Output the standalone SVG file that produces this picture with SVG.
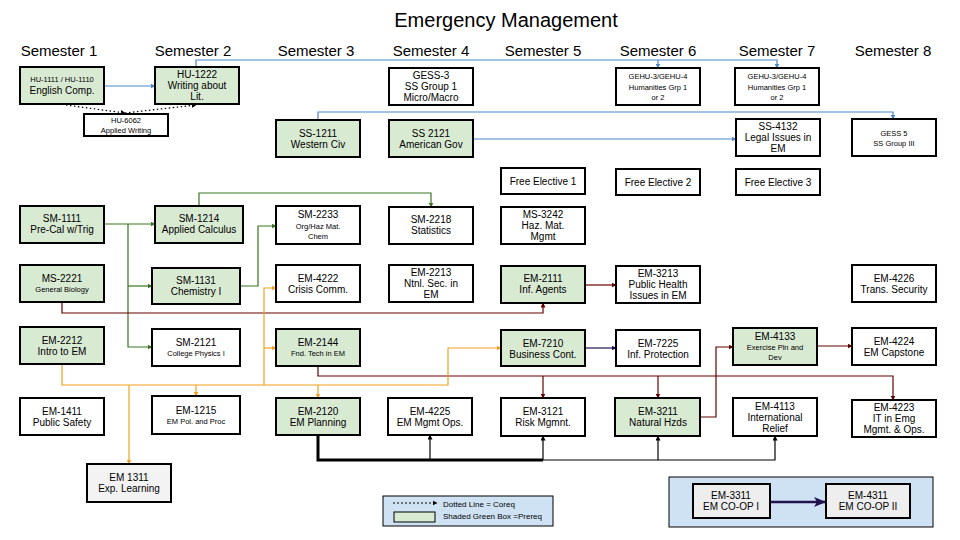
<svg xmlns="http://www.w3.org/2000/svg" width="960" height="540" viewBox="0 0 960 540">
<style>
text{font-family:"Liberation Sans",Arial,sans-serif;fill:#000;text-anchor:middle}
.n rect{stroke:#000;stroke-width:2}
.g{fill:#d9ead3}.w{fill:#fff}.e{fill:#eeeeee}
.t{font-size:10px}.s{font-size:7.5px}.h{font-size:15px}
.c path{fill:none}
.bl{stroke:#4a86c8;stroke-width:1.2}.gr{stroke:#38761d;stroke-width:1.2}.rd{stroke:#660000;stroke-width:1.2}
.or{stroke:#f1a21e;stroke-width:1.2}.nv{stroke:#20124d;stroke-width:1.2}.bk{stroke:#000;stroke-width:1.2}
</style>
<defs>
<marker id="ab" markerUnits="userSpaceOnUse" markerWidth="5" markerHeight="5" refX="4.5" refY="2.5" orient="auto"><path d="M0,0L5,2.5L0,5z" fill="#4a86c8"/></marker>
<marker id="ag" markerUnits="userSpaceOnUse" markerWidth="5" markerHeight="5" refX="4.5" refY="2.5" orient="auto"><path d="M0,0L5,2.5L0,5z" fill="#38761d"/></marker>
<marker id="ar" markerUnits="userSpaceOnUse" markerWidth="5" markerHeight="5" refX="4.5" refY="2.5" orient="auto"><path d="M0,0L5,2.5L0,5z" fill="#660000"/></marker>
<marker id="ao" markerUnits="userSpaceOnUse" markerWidth="5" markerHeight="5" refX="4.5" refY="2.5" orient="auto"><path d="M0,0L5,2.5L0,5z" fill="#f1a21e"/></marker>
<marker id="an" markerUnits="userSpaceOnUse" markerWidth="5" markerHeight="5" refX="4.5" refY="2.5" orient="auto"><path d="M0,0L5,2.5L0,5z" fill="#20124d"/></marker>
<marker id="ak" markerUnits="userSpaceOnUse" markerWidth="5" markerHeight="5" refX="4.5" refY="2.5" orient="auto"><path d="M0,0L5,2.5L0,5z" fill="#000"/></marker>
<marker id="anb" markerUnits="userSpaceOnUse" markerWidth="12" markerHeight="10" refX="11" refY="5" orient="auto"><path d="M0,0L12,5L0,10L3,5z" fill="#20124d"/></marker>
</defs>
<text x="506" y="27" style="font-size:20px">Emergency Management</text>
<g class="h">
<text x="59" y="56" class="h">Semester 1</text><text x="193" y="56" class="h">Semester 2</text><text x="316" y="56" class="h">Semester 3</text><text x="431" y="56" class="h">Semester 4</text><text x="543" y="56" class="h">Semester 5</text><text x="658" y="56" class="h">Semester 6</text><text x="777" y="56" class="h">Semester 7</text><text x="893" y="56" class="h">Semester 8</text>
</g>
<g id="legend"><rect x="383" y="496" width="170" height="30" fill="#cfe2f3" stroke="#000"/><path d="M393,503H437" stroke="#000" stroke-dasharray="2,2" marker-end="url(#ak)"/><text x="443" y="507" style="font-size:8px;text-anchor:start">Dotted Line = Coreq</text><rect x="394" y="512" width="41" height="10" fill="#d9ead3" stroke="#000"/><text x="443" y="519" style="font-size:8px;text-anchor:start">Shaded Green Box =Prereq</text></g>
<g id="coop"><rect x="669" y="477" width="264" height="50" fill="#cfe2f3" stroke="#000"/></g>
<g class="c">
<path class="bl" d="M104,86H155" marker-end="url(#ab)"/>
<path class="bl" d="M196,67V60H777V68" marker-end="url(#ab)"/>
<path class="bl" d="M658,60V68" marker-end="url(#ab)"/>
<path class="bl" d="M318,120V112H893V119" marker-end="url(#ab)"/>
<path class="bl" d="M473,139H736" marker-end="url(#ab)"/>
<path d="M66,105L125,113" stroke="#000" stroke-dasharray="1.5,2.5" stroke-width="1.2" marker-end="url(#ak)"/>
<path d="M125,113L196,105" stroke="#000" stroke-dasharray="1.5,2.5" stroke-width="1.2" marker-end="url(#ak)"/>
<path class="gr" d="M104,224H155" marker-end="url(#ag)"/>
<path class="gr" d="M128,224V347H152" marker-end="url(#ag)"/>
<path class="gr" d="M128,286H152" marker-end="url(#ag)"/>
<path class="gr" d="M199,206V193H431V207" marker-end="url(#ag)"/>
<path class="gr" d="M240,286H258V226H276" marker-end="url(#ag)"/>
<path class="rd" d="M62,302V313H543V303" marker-end="url(#ar)"/>
<path class="rd" d="M585,285H616" marker-end="url(#ar)"/>
<path class="rd" d="M318,366V376H893V400" marker-end="url(#ar)"/>
<path class="rd" d="M543,376V398" marker-end="url(#ar)"/>
<path class="rd" d="M658,376V398" marker-end="url(#ar)"/>
<path class="rd" d="M700,417H716V347H733" marker-end="url(#ar)"/>
<path class="rd" d="M817,346H852" marker-end="url(#ar)"/>
<path class="nv" d="M585,348H616" marker-end="url(#an)"/>
<path class="or" d="M62,364V385H448V348H501" marker-end="url(#ao)"/>
<path class="or" d="M196,385V396" marker-end="url(#ao)"/>
<path class="or" d="M318,385V398" marker-end="url(#ao)"/>
<path class="or" d="M129,385V464" marker-end="url(#ao)"/>
<path class="or" d="M264,385V288H276" marker-end="url(#ao)"/>
<path class="or" d="M264,348H276" marker-end="url(#ao)"/>
<path d="M318,435V460H543" stroke="#000" stroke-width="3"/>
<path class="bk" d="M543,460H775V436" marker-end="url(#ak)"/>
<path class="bk" d="M430,460V435" marker-end="url(#ak)"/>
<path class="bk" d="M543,460V436" marker-end="url(#ak)"/>
<path class="bk" d="M658,460V436" marker-end="url(#ak)"/>
<path d="M770,502H825" stroke="#20124d" stroke-width="2.5" marker-end="url(#anb)"/>
</g>
<g id="hu1111" class="n"><rect class="g" x="20" y="67" width="84" height="37"/><text class="s" x="62" y="82">HU-1111 / HU-1110</text><text class="t" x="62" y="94">English Comp.</text></g>
<g id="hu1222" class="n"><rect class="g" x="155" y="67" width="84" height="37"/><text class="t" x="197" y="78">HU-1222</text><text class="t" x="197" y="89">Writing about</text><text class="t" x="197" y="100">Lit.</text></g>
<g id="hu6062" class="n"><rect class="w" x="84" y="114" width="84" height="22"/><text class="s" x="126" y="123">HU-6062</text><text class="s" x="126" y="133">Applied Writing</text></g>
<g id="gess3" class="n"><rect class="w" x="389" y="68" width="84" height="37"/><text class="t" x="431" y="79">GESS-3</text><text class="t" x="431" y="90">SS Group 1</text><text class="t" x="431" y="101">Micro/Macro</text></g>
<g id="gehu6" class="n"><rect class="w" x="616" y="68" width="84" height="37"/><text class="s" x="658" y="79">GEHU-3/GEHU-4</text><text class="s" x="658" y="90">Humanities Grp 1</text><text class="s" x="658" y="100">or 2</text></g>
<g id="gehu7" class="n"><rect class="w" x="735" y="68" width="84" height="37"/><text class="s" x="777" y="79">GEHU-3/GEHU-4</text><text class="s" x="777" y="90">Humanities Grp 1</text><text class="s" x="777" y="100">or 2</text></g>
<g id="ss1211" class="n"><rect class="g" x="276" y="120" width="84" height="37"/><text class="t" x="318" y="137">SS-1211</text><text class="t" x="318" y="148">Western Civ</text></g>
<g id="ss2121" class="n"><rect class="g" x="389" y="120" width="84" height="37"/><text class="t" x="431" y="137">SS 2121</text><text class="t" x="431" y="148">American Gov</text></g>
<g id="ss4132" class="n"><rect class="w" x="736" y="119" width="84" height="37"/><text class="t" x="778" y="130">SS-4132</text><text class="t" x="778" y="141">Legal Issues in</text><text class="t" x="778" y="152">EM</text></g>
<g id="gess5" class="n"><rect class="w" x="852" y="119" width="84" height="37"/><text class="s" x="894" y="136">GESS 5</text><text class="s" x="894" y="146">SS Group III</text></g>
<g id="fe1" class="n"><rect class="w" x="501" y="168" width="84" height="26"/><text class="t" x="543" y="185">Free Elective 1</text></g>
<g id="fe2" class="n"><rect class="w" x="616" y="169" width="84" height="26"/><text class="t" x="658" y="186">Free Elective 2</text></g>
<g id="fe3" class="n"><rect class="w" x="736" y="169" width="84" height="26"/><text class="t" x="778" y="186">Free Elective 3</text></g>
<g id="sm1111" class="n"><rect class="g" x="20" y="206" width="84" height="37"/><text class="t" x="62" y="222">SM-1111</text><text class="t" x="62" y="233">Pre-Cal w/Trig</text></g>
<g id="sm1214" class="n"><rect class="g" x="155" y="206" width="88" height="37"/><text class="t" x="199" y="222">SM-1214</text><text class="t" x="199" y="233">Applied Calculus</text></g>
<g id="sm2233" class="n"><rect class="w" x="276" y="206" width="84" height="38"/><text class="t" x="318" y="218">SM-2233</text><text class="s" x="318" y="229">Org/Haz Mat.</text><text class="s" x="318" y="239">Chem</text></g>
<g id="sm2218" class="n"><rect class="w" x="389" y="207" width="84" height="37"/><text class="t" x="431" y="223">SM-2218</text><text class="t" x="431" y="234">Statistics</text></g>
<g id="ms3242" class="n"><rect class="w" x="501" y="207" width="84" height="37"/><text class="t" x="543" y="218">MS-3242</text><text class="t" x="543" y="229">Haz. Mat.</text><text class="t" x="543" y="240">Mgmt</text></g>
<g id="ms2221" class="n"><rect class="g" x="20" y="265" width="84" height="37"/><text class="t" x="62" y="282">MS-2221</text><text class="s" x="62" y="292">General Biology</text></g>
<g id="sm1131" class="n"><rect class="g" x="152" y="268" width="88" height="36"/><text class="t" x="196" y="284">SM-1131</text><text class="t" x="196" y="295">Chemistry I</text></g>
<g id="em4222" class="n"><rect class="w" x="276" y="265" width="84" height="37"/><text class="t" x="318" y="282">EM-4222</text><text class="t" x="318" y="293">Crisis Comm.</text></g>
<g id="em2213" class="n"><rect class="w" x="389" y="265" width="84" height="37"/><text class="t" x="431" y="276">EM-2213</text><text class="t" x="431" y="287">Ntnl. Sec. in</text><text class="t" x="431" y="298">EM</text></g>
<g id="em2111" class="n"><rect class="g" x="501" y="266" width="84" height="37"/><text class="t" x="543" y="282">EM-2111</text><text class="t" x="543" y="293">Inf. Agents</text></g>
<g id="em3213" class="n"><rect class="w" x="616" y="266" width="84" height="37"/><text class="t" x="658" y="277">EM-3213</text><text class="t" x="658" y="288">Public Health</text><text class="t" x="658" y="299">Issues in EM</text></g>
<g id="em4226" class="n"><rect class="w" x="852" y="265" width="84" height="37"/><text class="t" x="894" y="282">EM-4226</text><text class="t" x="894" y="293">Trans. Security</text></g>
<g id="em2212" class="n"><rect class="g" x="20" y="327" width="84" height="37"/><text class="t" x="62" y="344">EM-2212</text><text class="t" x="62" y="355">Intro to EM</text></g>
<g id="sm2121" class="n"><rect class="w" x="152" y="329" width="88" height="37"/><text class="t" x="196" y="346">SM-2121</text><text class="s" x="196" y="356">College Physics I</text></g>
<g id="em2144" class="n"><rect class="g" x="276" y="329" width="84" height="37"/><text class="t" x="318" y="346">EM-2144</text><text class="s" x="318" y="356">Fnd. Tech in EM</text></g>
<g id="em7210" class="n"><rect class="g" x="501" y="330" width="84" height="36"/><text class="t" x="543" y="347">EM-7210</text><text class="t" x="543" y="358">Business Cont.</text></g>
<g id="em7225" class="n"><rect class="w" x="616" y="330" width="84" height="36"/><text class="t" x="658" y="347">EM-7225</text><text class="t" x="658" y="358">Inf. Protection</text></g>
<g id="em4133" class="n"><rect class="g" x="733" y="328" width="84" height="37"/><text class="t" x="775" y="340">EM-4133</text><text class="s" x="775" y="350">Exercise Pln and</text><text class="s" x="775" y="360">Dev</text></g>
<g id="em4224" class="n"><rect class="w" x="852" y="328" width="84" height="37"/><text class="t" x="894" y="345">EM-4224</text><text class="t" x="894" y="356">EM Capstone</text></g>
<g id="em1411" class="n"><rect class="w" x="20" y="398" width="84" height="37"/><text class="t" x="62" y="415">EM-1411</text><text class="t" x="62" y="426">Public Safety</text></g>
<g id="em1215" class="n"><rect class="w" x="152" y="396" width="88" height="38"/><text class="t" x="196" y="414">EM-1215</text><text class="s" x="196" y="424">EM Pol. and Proc</text></g>
<g id="em2120" class="n"><rect class="g" x="276" y="398" width="84" height="37"/><text class="t" x="318" y="415">EM-2120</text><text class="t" x="318" y="426">EM Planning</text></g>
<g id="em4225" class="n"><rect class="w" x="388" y="398" width="84" height="37"/><text class="t" x="430" y="415">EM-4225</text><text class="t" x="430" y="426">EM Mgmt Ops.</text></g>
<g id="em3121" class="n"><rect class="w" x="501" y="398" width="84" height="38"/><text class="t" x="543" y="415">EM-3121</text><text class="t" x="543" y="426">Risk Mgmnt.</text></g>
<g id="em3211" class="n"><rect class="g" x="615" y="398" width="85" height="38"/><text class="t" x="658" y="415">EM-3211</text><text class="t" x="658" y="426">Natural Hzds</text></g>
<g id="em4113" class="n"><rect class="w" x="733" y="398" width="84" height="38"/><text class="t" x="775" y="410">EM-4113</text><text class="t" x="775" y="421">International</text><text class="t" x="775" y="432">Relief</text></g>
<g id="em4223" class="n"><rect class="w" x="852" y="400" width="84" height="37"/><text class="t" x="894" y="411">EM-4223</text><text class="t" x="894" y="422">IT in Emg</text><text class="t" x="894" y="433">Mgmt. &amp; Ops.</text></g>
<g id="em1311" class="n"><rect class="e" x="87" y="464" width="84" height="38" style="fill:#f3f3f3"/><text class="t" x="129" y="481">EM 1311</text><text class="t" x="129" y="492">Exp. Learning</text></g>
<g id="em3311" class="n"><rect class="e" x="693" y="484" width="77" height="34"/><text class="t" x="731" y="499">EM-3311</text><text class="t" x="731" y="510">EM CO-OP I</text></g>
<g id="em4311" class="n"><rect class="e" x="826" y="484" width="84" height="34"/><text class="t" x="868" y="499">EM-4311</text><text class="t" x="868" y="510">EM CO-OP II</text></g>
</svg>
